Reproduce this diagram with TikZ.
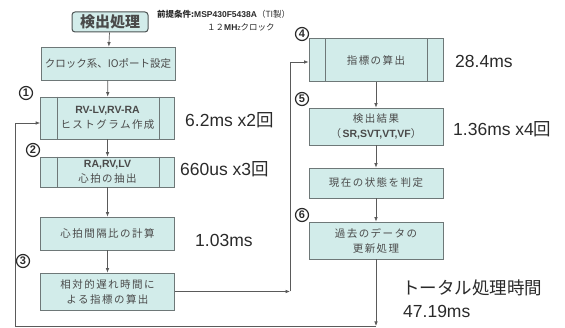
\documentclass[tikz,border=0pt]{standalone}
\usepackage{fontspec}
\setmainfont{Liberation Sans}
\newfontfamily\jp{Noto Sans CJK JP}
\newfontfamily\jpsp{Noto Sans CJK JP}[LetterSpace=14]
\usetikzlibrary{arrows.meta}
\definecolor{boxc}{HTML}{D2ECEA}
\definecolor{bordc}{HTML}{6E7878}
\definecolor{linec}{HTML}{5A5A5A}
\definecolor{txtc}{HTML}{4A4A4A}
\definecolor{timec}{HTML}{2A2A2A}
\begin{document}
\begin{tikzpicture}[x=1pt,y=-1pt,
  box/.style={draw=bordc, fill=boxc, line width=0.7pt, minimum width=134pt,
    align=center, font=\jpsp\fontsize{10.5}{15}\selectfont, text=txtc, inner sep=1pt},
  startbox/.style={draw=bordc!70!black, fill=boxc, line width=1pt, rounded corners=3pt,
    minimum width=76pt, minimum height=20pt, inner sep=1pt,
    font=\jp\bfseries\fontsize{15}{15}\selectfont, text=txtc},
  conn/.style={draw=linec, line width=0.7pt, -{Latex[length=4.5pt,width=3.6pt]}},
  num/.style={circle, draw=timec, line width=1.2pt, fill=white, minimum size=13pt, inner sep=0pt,
    font=\bfseries\fontsize{11}{11}\selectfont, text=timec},
  tlabel/.style={font=\fontsize{17.5}{19}\selectfont, text=timec, anchor=west, inner sep=0pt, align=left},
  hdr/.style={font=\jp\fontsize{8.5}{10}\selectfont, text=timec, anchor=west, inner sep=0pt}
]
\useasboundingbox (0,0) rectangle (565,328);

% header
\node[startbox] (start) at (110,22) {検出処理};
\node[hdr] (h1) at (157,14) {\textbf{前提条件:\fontspec{Liberation Sans}MSP430F5438A}（TI製）};
\node[hdr] (h2) at (207,27) {１２\textbf{\fontspec{Liberation Sans}MH}{\scriptsize z}クロック};

% left column
\node[box, minimum height=33pt, font=\jp\fontsize{10.5}{14}\selectfont] (b1) at (108,63.5) {クロック系、IOポート設定};
\node[box, minimum height=42pt] (b2) at (107.5,118) {\textbf{\fontspec{Liberation Sans}RV-LV,RV-RA}\\ヒストグラム作成};
\node[box, minimum height=30pt] (b3) at (107.5,172) {\textbf{\fontspec{Liberation Sans}RA,RV,LV}\\心拍の抽出};
\node[box, minimum height=33pt] (b4) at (107.5,233.5) {心拍間隔比の計算};
\node[box, minimum height=37pt] (b5) at (107.5,291.5) {相対的遅れ時間に\\よる指標の算出};

% right column
\node[box, minimum height=43pt] (b6) at (376,60) {指標の算出};
\node[box, minimum height=37pt] (b7) at (376,126.5) {検出結果\\（\textbf{\fontspec{Liberation Sans}SR,SVT,VT,VF}）};
\node[box, minimum height=30pt] (b8) at (376,183) {現在の状態を判定};
\node[box, minimum height=37pt] (b9) at (376,240.5) {過去のデータの\\更新処理};

% predefined-process inner lines
\foreach \n in {b2,b3,b6}{
  \draw[draw=bordc, line width=0.7pt] ([xshift=17pt]\n.north west) -- ([xshift=17pt]\n.south west);
  \draw[draw=bordc, line width=0.7pt] ([xshift=-16pt]\n.north east) -- ([xshift=-16pt]\n.south east);
}

% connectors
\draw[conn] (start) -- (b1);
\draw[conn] (b1) -- (b2);
\draw[conn] (b2) -- (b3);
\draw[conn] (b3) -- (b4);
\draw[conn] (b4) -- (b5);
\draw[conn] (b6) -- (b7);
\draw[conn] (b7) -- (b8);
\draw[conn] (b8) -- (b9);

\coordinate (j1) at (290,291.5);
\coordinate (j2) at (290,62);
\draw[conn] (b5.east) -- (j1);
\draw[conn] (j1) -- (j2) -- ([yshift=-2pt]b6.west);

\coordinate (bot) at (376,326);
\coordinate (lb) at (15,326);
\coordinate (lt) at (15,123);
\draw[conn] (b9.south) -- (bot);
\draw[conn] (bot) -- (lb) -- (lt) -- ([yshift=-5pt]b2.west);

% circled numbers
\node[num] (n1) at (26,93) {1};
\node[num] (n2) at (33,150) {2};
\node[num] (n3) at (23,261) {3};
\node[num] (n4) at (302,34) {4};
\node[num] (n5) at (302,99) {5};
\node[num] (n6) at (302,215) {6};

% timing labels
\node[tlabel] (t1) at (185,120) {6.2ms x2{\jp 回}};
\node[tlabel] (t2) at (180,169.5) {660us x3{\jp 回}};
\node[tlabel] (t3) at (195,240) {1.03ms};
\node[tlabel] (t4) at (455,61) {28.4ms};
\node[tlabel] (t5) at (453,129) {1.36ms x4{\jp 回}};
\node[tlabel, font=\jp\fontsize{17.5}{19}\selectfont] (t6) at (402,288) {トータル処理時間};
\node[tlabel] (t7) at (403,311) {47.19ms};
\end{tikzpicture}
\end{document}
